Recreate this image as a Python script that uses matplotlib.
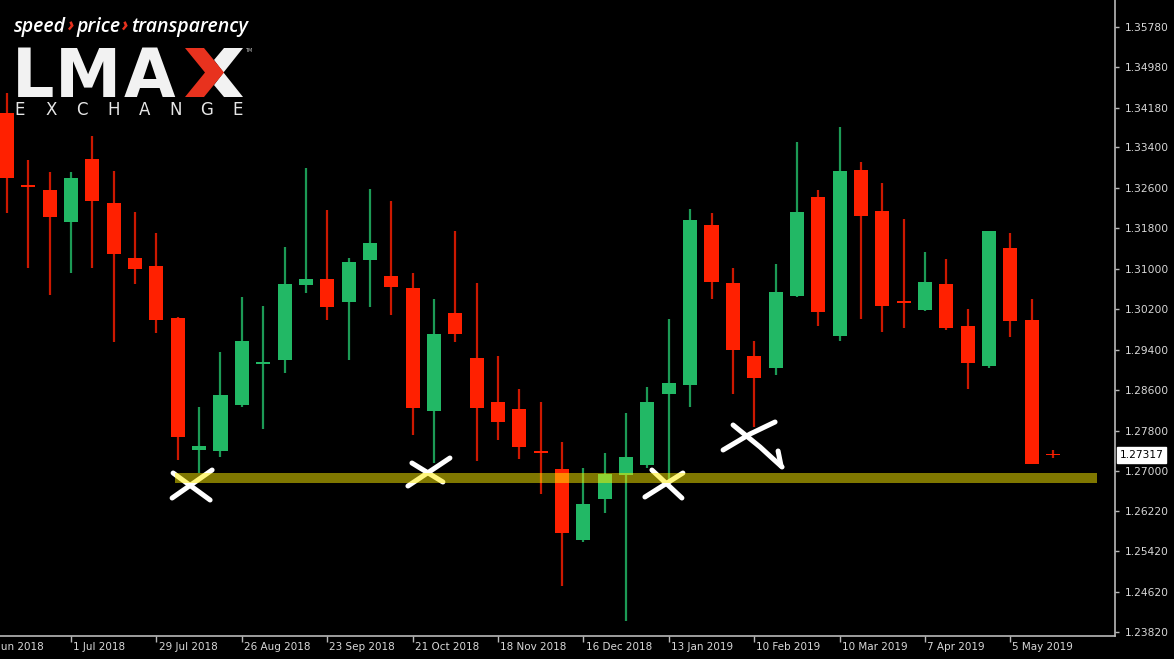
import matplotlib
matplotlib.use("Agg")
import matplotlib.pyplot as plt
import matplotlib.dates as mdates
from matplotlib.patches import Rectangle, Polygon
from matplotlib.lines import Line2D
from matplotlib.transforms import blended_transform_factory, IdentityTransform
import pandas as pd

# ---------------- data (weekly GBP/USD candles) ----------------
weeks = pd.date_range("2018-06-10", periods=50, freq="7D")
opens = [1.34080, 1.32657, 1.32558, 1.31925, 1.33171, 1.32301, 1.31214, 1.31055, 1.30027, 1.27418,
         1.27398, 1.28308, 1.29118, 1.29197, 1.30680, 1.30798, 1.30344, 1.31174, 1.30858, 1.30621,
         1.28189, 1.30126, 1.29237, 1.28367, 1.28229, 1.27398, 1.27042, 1.25639, 1.26449, 1.26924,
         1.27121, 1.28525, 1.28703, 1.31866, 1.30719, 1.29276, 1.29039, 1.30462, 1.32420, 1.29672,
         1.32953, 1.32143, 1.30364, 1.30186, 1.30700, 1.29869, 1.29079, 1.31411, 1.29988, 1.27327]
highs = [1.34475, 1.33151, 1.32914, 1.32914, 1.33625, 1.32933, 1.32123, 1.31708, 1.30047, 1.28268,
         1.29355, 1.30443, 1.30265, 1.31431, 1.32993, 1.32163, 1.31214, 1.32578, 1.32340, 1.30917,
         1.30403, 1.31747, 1.30719, 1.29276, 1.28624, 1.28367, 1.27576, 1.27062, 1.27359, 1.28149,
         1.28663, 1.30008, 1.32182, 1.32103, 1.31016, 1.29573, 1.31095, 1.33507, 1.32558, 1.33803,
         1.33111, 1.32696, 1.31985, 1.31332, 1.31194, 1.30205, 1.31747, 1.31708, 1.30403, 1.27418]
lows = [1.32103, 1.31016, 1.30482, 1.30917, 1.31016, 1.29553, 1.30700, 1.29731, 1.27220, 1.26963,
        1.27280, 1.28268, 1.27833, 1.28940, 1.30522, 1.29988, 1.29197, 1.30245, 1.30087, 1.27715,
        1.27161, 1.29553, 1.27201, 1.27616, 1.27240, 1.26548, 1.24729, 1.25600, 1.26173, 1.24038,
        1.27062, 1.26785, 1.28268, 1.30403, 1.28525, 1.27873, 1.28901, 1.30442, 1.29869, 1.29573,
        1.30008, 1.29751, 1.29830, 1.30166, 1.29790, 1.28624, 1.29039, 1.29652, 1.27141, 1.27260]
closes = [1.32795, 1.32617, 1.32024, 1.32795, 1.32340, 1.31293, 1.30996, 1.29988, 1.27675, 1.27497,
          1.28505, 1.29573, 1.29158, 1.30700, 1.30798, 1.30245, 1.31135, 1.31510, 1.30640, 1.28248,
          1.29711, 1.29711, 1.28248, 1.27972, 1.27477, 1.27359, 1.25777, 1.26350, 1.26944, 1.27280,
          1.28367, 1.28742, 1.31965, 1.30739, 1.29395, 1.28841, 1.30542, 1.32123, 1.30146, 1.32933,
          1.32044, 1.30265, 1.30324, 1.30739, 1.29830, 1.29138, 1.31747, 1.29968, 1.27141, 1.27317]
current_price = 1.27317

support_low = 1.26765
support_high = 1.26963

price_ticks = [1.35780, 1.34980, 1.34180, 1.33400, 1.32600, 1.31800, 1.31000, 1.30200,
               1.29400, 1.28600, 1.27800, 1.27000, 1.26220, 1.25420, 1.24620, 1.23820]
date_ticks = ["2018-06-03", "2018-07-01", "2018-07-29", "2018-08-26", "2018-09-23", "2018-10-21",
              "2018-11-18", "2018-12-16", "2019-01-13", "2019-02-10", "2019-03-10", "2019-04-07",
              "2019-05-05"]
date_labels = ["3 Jun 2018", "1 Jul 2018", "29 Jul 2018", "26 Aug 2018", "23 Sep 2018",
               "21 Oct 2018", "18 Nov 2018", "16 Dec 2018", "13 Jan 2019", "10 Feb 2019",
               "10 Mar 2019", "7 Apr 2019", "5 May 2019"]

# hand-drawn "X" annotations: anchor (week index, price) + stroke offsets in pixels
x_marks = [
    (8.67, 1.26706, [[(-19, -13), (18, 14)], [(20, -16), (-20, 12)]]),
    (19.81, 1.26983, [[(-18, -9), (13, 10)], [(20, -14), (-22, 14)]]),
    (30.77, 1.26726, [[(-12, -15), (18, 13)], [(19, -12), (-19, 12)]]),
    (34.90, 1.27517, [[(-29, 5), (-2, -11), (23, -23)],
                      [(-19, -20), (8, 2), (20, 13), (30, 22)],
                      [(26, 6), (29, 21)]]),
]

# ---------------- figure ----------------
W, H = 1174, 659
fig = plt.figure(figsize=(W / 100, H / 100), dpi=100, facecolor="black")
ax = fig.add_axes([0, 23 / H, 1115 / W, 636 / H], facecolor="black")

xnum = mdates.date2num(weeks)
body_w = 4.6
up_body, up_wick = "#22b865", "#1c9a55"
dn_body, dn_wick = "#ff2000", "#cc1800"

for x, o, h, l, c in zip(xnum, opens, highs, lows, closes):
    up = c >= o
    ax.vlines(x, l, h, color=up_wick if up else dn_wick, linewidth=1.6, zorder=2)
    bottom = min(o, c)
    height = max(abs(c - o), 0.00028)
    ax.add_patch(Rectangle((x - body_w / 2, bottom), body_w, height,
                           facecolor=up_body if up else dn_body, edgecolor="none", zorder=3))

# axes styling
for s in ["left", "top"]:
    ax.spines[s].set_visible(False)
for s in ["right", "bottom"]:
    ax.spines[s].set_color("#b8b8b8")
    ax.spines[s].set_linewidth(1.2)

ax.yaxis.tick_right()
ax.set_yticks(price_ticks)
ax.set_yticklabels([f"{v:.5f}" for v in price_ticks])
ax.tick_params(axis="y", colors="#b8b8b8", labelcolor="#d8d8d8", labelsize=7.7,
               length=3, width=1, pad=4, direction="out")

tick_nums = mdates.date2num(pd.to_datetime(date_ticks))
ax.set_xticks(tick_nums)
ax.set_xticklabels([""] * len(tick_nums))
ax.tick_params(axis="x", colors="#b8b8b8", length=4, width=1, direction="out")

# view limits (set after ticks so they are not expanded)
ax.set_xlim(xnum[0] - 2.3, xnum[0] + 363.3)
ax.set_ylim(1.23741, 1.36314)

xtr = blended_transform_factory(ax.transData, ax.transAxes)
for tn, lab in zip(tick_nums, date_labels):
    ax.annotate(lab, xy=(tn, 0), xycoords=xtr, xytext=(1.5, -4.5), textcoords="offset points",
                ha="left", va="top", fontsize=7.5, color="#d8d8d8", annotation_clip=False)

# support band
band_x0 = xnum[0] + 7.87 * 7
band_x1 = xnum[0] + 51.05 * 7
ax.add_patch(Rectangle((band_x0, support_low), band_x1 - band_x0, support_high - support_low,
                       facecolor="#ffee00", edgecolor="none", alpha=0.5, zorder=6))

# current price box
ytr = blended_transform_factory(ax.transAxes, ax.transData)
ax.annotate(f"{current_price:.5f}", xy=(1, current_price), xycoords=ytr, xytext=(3.5, 0),
            textcoords="offset points", ha="left", va="center", fontsize=7.7, color="black",
            bbox=dict(boxstyle="square,pad=0.25", fc="white", ec="white"),
            annotation_clip=False, zorder=10)

# hand-drawn X marks
for ix, price, strokes in x_marks:
    ax_x = xnum[0] + ix * 7
    cx, cy = ax.transData.transform((ax_x, price))
    for st in strokes:
        xs = [cx + dx for dx, dy in st]
        ys = [cy - dy for dx, dy in st]
        ln = Line2D(xs, ys, transform=IdentityTransform(), color="white", linewidth=3.6,
                    solid_capstyle="round", solid_joinstyle="round", zorder=5)
        ax.add_line(ln)

# ---------------- logo ----------------
def fx(x):
    return x / W

def fy(y):
    return 1 - y / H

renderer = fig.canvas.get_renderer()
slogan = [("speed", "white", 2), ("\u203a", "#e8321e", 2), ("price", "white", 2),
          ("\u203a", "#e8321e", 2), ("transparency", "white", 0)]
xcur = 14
for txt, col, gap in slogan:
    t = fig.text(fx(xcur), fy(32), txt, color=col, fontsize=14, family="Open Sans",
                 style="italic", weight="bold" if txt == "\u203a" else "semibold",
                 ha="left", va="baseline", zorder=20)
    bb = t.get_window_extent(renderer=renderer)
    xcur += bb.width + gap

for ch, x0 in [("L", 12), ("M", 55), ("A", 124)]:
    fig.text(fx(x0), fy(97), ch, color="#f2f2f2", fontsize=48, family="DejaVu Sans",
             weight="bold", ha="left", va="baseline", zorder=20)

xl, xr, yt, yb = 185, 243, 48, 97
sw = 19
ym = (yt + yb) / 2
xc = (xl + xr) / 2
polys_white = [
    [(xr - sw, yt), (xr, yt), (xc + sw / 2, ym), (xc, yt + sw * 0.63)],
    [(xc, yb - sw * 0.63), (xc + sw / 2, ym), (xr, yb), (xr - sw, yb)],
]
red_poly = [(xl, yt), (xl + sw, yt), (xc + sw / 2 + 0.5, ym), (xl + sw, yb),
            (xl, yb), (xc - sw / 2 + 0.5, ym)]
for p in polys_white:
    fig.add_artist(Polygon([(fx(a), fy(b)) for a, b in p], closed=True, transform=fig.transFigure,
                           facecolor="#f2f2f2", edgecolor="none", zorder=20))
fig.add_artist(Polygon([(fx(a), fy(b)) for a, b in red_poly], closed=True, transform=fig.transFigure,
                       facecolor="#e8321e", edgecolor="none", zorder=21))
fig.text(fx(245), fy(52), "TM", color="#cccccc", fontsize=3.5, ha="left", va="baseline", zorder=20)

for i, ch in enumerate("EXCHANGE"):
    fig.text(fx(20 + 31.1 * i), fy(115), ch, color="#e6e6e6", fontsize=12, family="DejaVu Sans",
             weight="normal", ha="center", va="baseline", zorder=20)

fig.savefig("out.png", dpi=100, facecolor="black")
